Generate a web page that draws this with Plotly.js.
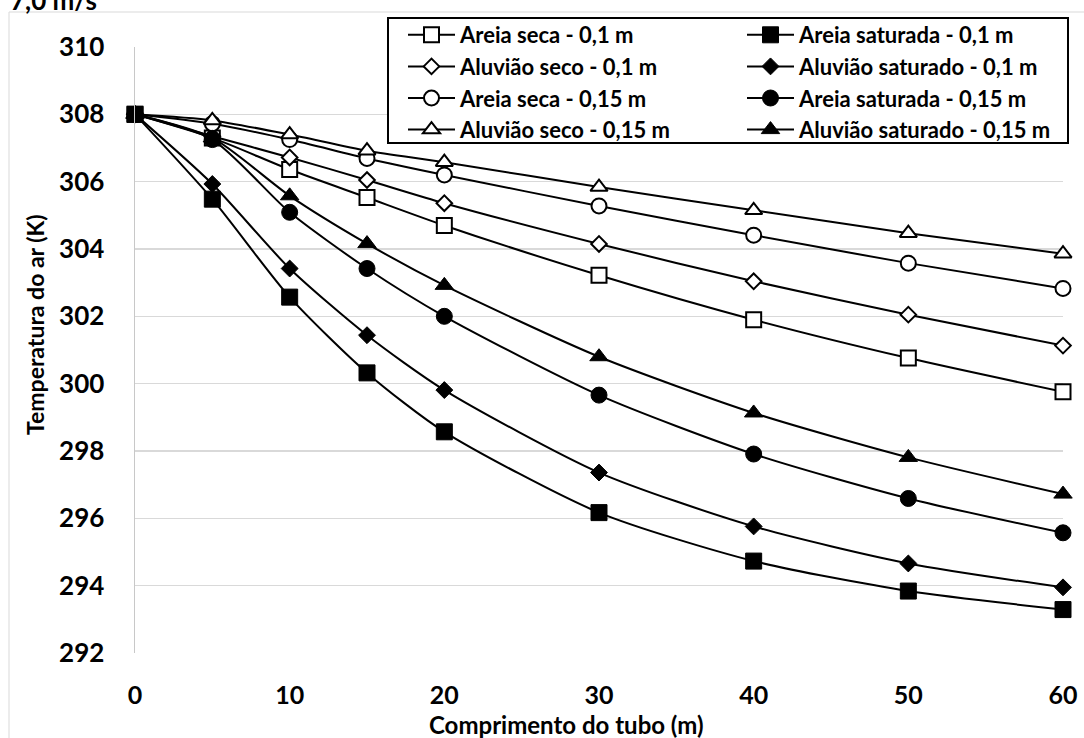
<!DOCTYPE html>
<html>
<head>
<meta charset="utf-8">
<script src="https://cdn.plot.ly/plotly-3.0.1.min.js"></script>
<style>html,body{margin:0;padding:0;background:#fff;}#chart{width:1084px;height:738px;}</style>
</head>
<body>
<div id="chart"></div>
<script>
// Comprimento do tubo (m)
var comprimento = [0, 5, 10, 15, 20, 30, 40, 50, 60];

// Temperatura do ar (K)
var areiaSeca01      = [308, 307.30, 306.36, 305.53, 304.70, 303.22, 301.90, 300.76, 299.76];
var areiaSaturada01  = [308, 305.48, 302.57, 300.32, 298.57, 296.17, 294.73, 293.84, 293.29];
var aluviaoSeco01    = [308, 307.35, 306.72, 306.05, 305.36, 304.15, 303.04, 302.05, 301.13];
var aluviaoSaturado01= [308, 305.93, 303.42, 301.44, 299.81, 297.36, 295.76, 294.66, 293.95];
var areiaSeca015     = [308, 307.72, 307.25, 306.69, 306.20, 305.28, 304.41, 303.58, 302.83];
var areiaSaturada015 = [308, 307.25, 305.09, 303.42, 302.00, 299.66, 297.91, 296.59, 295.57];
var aluviaoSeco015   = [308, 307.82, 307.40, 306.92, 306.58, 305.84, 305.15, 304.47, 303.86];
var aluviaoSaturado015=[308, 307.30, 305.58, 304.16, 302.92, 300.80, 299.13, 297.81, 296.72];

// drawing order (filled squares last, on top); legendRank keeps legend order
var seriesNames = [
  'Areia seca - 0,1 m', 'Aluvião seco - 0,1 m', 'Areia seca - 0,15 m', 'Aluvião seco - 0,15 m',
  'Aluvião saturado - 0,15 m', 'Areia saturada - 0,15 m', 'Aluvião saturado - 0,1 m', 'Areia saturada - 0,1 m'
];
var seriesValues = [areiaSeca01, aluviaoSeco01, areiaSeca015, aluviaoSeco015,
                    aluviaoSaturado015, areiaSaturada015, aluviaoSaturado01, areiaSaturada01];
var legendRank = [1, 2, 3, 4, 4, 3, 2, 1];
var symbols = ['square', 'diamond', 'circle', 'triangle-up', 'triangle-up', 'circle', 'diamond', 'square'];
var sizes   = [15, 12, 15, 15, 16, 16, 13, 16];
var filled  = [false, false, false, false, true, true, true, true];

var FONT = 'Lato, "Open Sans", sans-serif';
var traces = [];
seriesNames.forEach(function (name, i) {
  traces.push({
    type: 'scatter',
    mode: 'lines+markers',
    name: name,
    x: comprimento,
    y: seriesValues[i],
    cliponaxis: false,
    legend: filled[i] ? 'legend2' : 'legend',
    legendgroup: 'g' + i,
    legendrank: legendRank[i],
    line: {color: '#000000', width: 2, shape: 'spline', smoothing: 0.7},
    marker: {
      symbol: symbols[i],
      size: sizes[i],
      color: filled[i] ? '#000000' : '#ffffff',
      line: {color: '#000000', width: filled[i] ? 1 : 2}
    }
  });
});

var PL = 135, PR = 21, PT = 47, PB = 85, W = 1084, H = 738;
var pw = W - PL - PR, ph = H - PT - PB;
function px(x) { return (x - PL) / pw; }
function py(y) { return (H - PB - y) / ph; }

var legendCommon = {
  font: {family: FONT, size: 22, color: '#000', weight: 'bold'},
  bgcolor: 'rgba(0,0,0,0)',
  borderwidth: 0,
  orientation: 'v',
  tracegroupgap: 0,
  itemwidth: 47,
  xanchor: 'left',
  yanchor: 'top',
  y: py(14)
};

var layout = {
  width: W, height: H,
  margin: {l: PL, r: PR, t: PT, b: PB, autoexpand: false},
  paper_bgcolor: '#ffffff',
  plot_bgcolor: '#ffffff',
  showlegend: true,
  legend: Object.assign({}, legendCommon, {x: px(403)}),
  legend2: Object.assign({}, legendCommon, {x: px(742)}),
  xaxis: {
    range: [0, 60],
    tick0: 0, dtick: 10,
    showgrid: false,
    zeroline: false,
    showline: false,
    ticks: '',
    ticklabelstandoff: 25,
    tickfont: {family: FONT, size: 25, color: '#000', weight: 'bold'}
  },
  yaxis: {
    range: [292, 310],
    tick0: 292, dtick: 2,
    showgrid: true,
    gridcolor: '#d9d9d9',
    gridwidth: 1.5,
    zeroline: false,
    showline: true,
    linecolor: '#c8c8c8',
    linewidth: 1.5,
    ticks: '',
    ticklabelstandoff: 24,
    tickfont: {family: FONT, size: 26, color: '#000', weight: 'bold'}
  },
  shapes: [
    {type: 'rect', xref: 'paper', yref: 'paper', x0: px(9), x1: px(1095), y0: py(760), y1: py(12),
     line: {color: '#d9d9d9', width: 1}, fillcolor: 'rgba(0,0,0,0)', layer: 'below'},
    {type: 'rect', xref: 'paper', yref: 'paper', x0: px(388), x1: px(1068), y0: py(143), y1: py(18),
     line: {color: '#000000', width: 2}, fillcolor: '#ffffff', layer: 'above'}
  ],
  annotations: [
    {text: '7,0 m/s', xref: 'paper', yref: 'paper', x: px(8), y: py(18), xanchor: 'left', yanchor: 'bottom',
     showarrow: false, font: {family: FONT, size: 26, color: '#000', weight: 'bold'}},
    {text: 'Temperatura do ar (K)', xref: 'paper', yref: 'paper', x: px(35), y: py(325), xanchor: 'center', yanchor: 'middle',
     textangle: -90, showarrow: false, font: {family: FONT, size: 23, color: '#000', weight: 'bold'}},
    {text: 'Comprimento do tubo (m)', xref: 'paper', yref: 'paper', x: px(566), y: py(724), xanchor: 'center', yanchor: 'middle',
     showarrow: false, font: {family: FONT, size: 24, color: '#000', weight: 'bold'}}
  ]
};

Plotly.newPlot('chart', traces, layout, {displayModeBar: false, staticPlot: true});
</script>
</body>
</html>
